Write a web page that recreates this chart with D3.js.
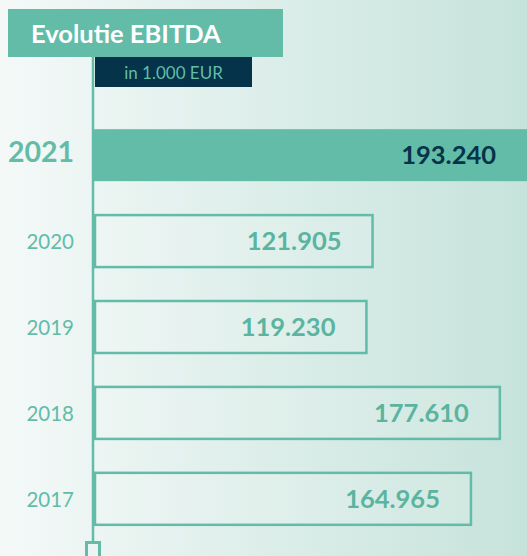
<!DOCTYPE html>
<html>
<head>
<meta charset="utf-8">
<script src="https://cdn.jsdelivr.net/npm/d3@7"></script>
<style>
  body { margin: 0; overflow: hidden; }
  svg { display: block; font-family: Lato, "Open Sans", sans-serif; }
</style>
</head>
<body>
<div id="chart"></div>
<script>
// data (in 1.000 EUR)
const years = ["2021", "2020", "2019", "2018", "2017"];
const ebitda = [193.240, 121.905, 119.230, 177.610, 164.965];
const valueLabels = ["193.240", "121.905", "119.230", "177.610", "164.965"];
const title = "Evolutie EBITDA";
const subtitle = "in 1.000 EUR";

const width = 527, height = 556;
const teal = "#63bca8", navy = "#04334a";
const axisX = 93;

const svg = d3.select("#chart").append("svg")
  .attr("width", width)
  .attr("height", height);

// background gradient
const grad = svg.append("defs").append("linearGradient")
  .attr("id", "bg")
  .attr("x1", "0%").attr("y1", "0%")
  .attr("x2", "100%").attr("y2", "0%");
grad.append("stop").attr("offset", "0%").style("stop-color", "#f4f9f8");
grad.append("stop").attr("offset", "100%").style("stop-color", "#c6e3db");
svg.append("rect").attr("width", width).attr("height", height).attr("fill", "url(#bg)");

// scales
const x = d3.scaleLinear().domain([0, 100]).range([axisX + 1, axisX + 1 + 228.5]);
const y = d3.scaleBand().domain(years).range([112, 542]).paddingInner(0.395).paddingOuter(0.2);

// vertical axis line
svg.append("line")
  .attr("x1", axisX).attr("x2", axisX)
  .attr("y1", 57).attr("y2", 542)
  .attr("stroke", teal).attr("stroke-width", 2.5);

// end marker
svg.append("rect")
  .attr("x", axisX - 6.5).attr("y", 542.5)
  .attr("width", 13).attr("height", 20)
  .attr("fill", "none").attr("stroke", teal).attr("stroke-width", 3);

const rows = svg.selectAll(".row")
  .data(years.map((yr, i) => ({year: yr, value: ebitda[i], label: valueLabels[i], first: i === 0})))
  .enter().append("g").attr("class", "row");

rows.append("rect")
  .attr("x", d => d.first ? x(0) : x(0) + 1)
  .attr("y", d => y(d.year))
  .attr("width", d => x(d.value) - x(0) - (d.first ? 0 : 1))
  .attr("height", y.bandwidth())
  .attr("fill", d => d.first ? teal : "rgba(255,255,255,0.12)")
  .attr("stroke", d => d.first ? "none" : teal)
  .attr("stroke-width", 2.5);

rows.append("text")
  .attr("x", d => Math.min(x(d.value), width) - 31)
  .attr("y", d => y(d.year) + y.bandwidth() / 2)
  .attr("dy", "0.36em")
  .attr("text-anchor", "end")
  .attr("font-weight", 700)
  .attr("font-size", "25.5px")
  .attr("fill", d => d.first ? navy : "#5bb49f")
  .text(d => d.label);

rows.append("text")
  .attr("x", 74)
  .attr("y", d => y(d.year) + y.bandwidth() / 2 + (d.first ? -3 : 1))
  .attr("dy", "0.36em")
  .attr("text-anchor", "end")
  .attr("font-weight", d => d.first ? 700 : 400)
  .attr("font-size", d => d.first ? "28.5px" : "20.5px")
  .attr("fill", teal)
  .text(d => d.year);

// title boxes
svg.append("rect").attr("x", 8).attr("y", 9).attr("width", 275).attr("height", 48).attr("fill", teal);
svg.append("text")
  .attr("x", 31).attr("y", 43)
  .attr("font-size", "25.5px").attr("font-weight", 700)
  .attr("fill", "#ffffff")
  .text(title);

svg.append("rect").attr("x", 95).attr("y", 57).attr("width", 157).attr("height", 30).attr("fill", navy);
svg.append("text")
  .attr("x", 173.5).attr("y", 78.5)
  .attr("text-anchor", "middle")
  .attr("font-size", "17px").attr("font-weight", 400)
  .attr("fill", teal)
  .text(subtitle);
</script>
</body>
</html>
